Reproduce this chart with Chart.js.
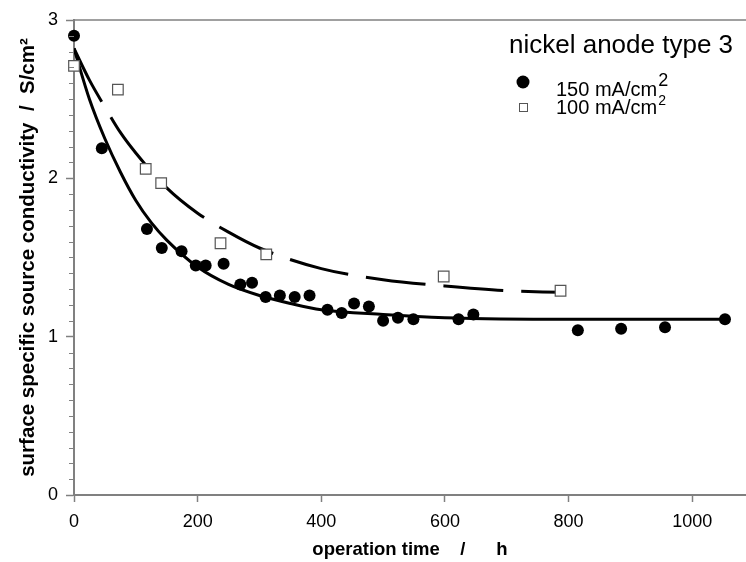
<!DOCTYPE html>
<html lang="en">
<head>
  <meta charset="UTF-8">
  <title>nickel anode type 3</title>
  <script src="https://cdn.jsdelivr.net/npm/chart.js"></script>
  <style>
    html, body { margin: 0; padding: 0; background: #fff; }
    #wrap { width: 746px; height: 562px; }
  </style>
</head>
<body>

<div id="wrap">
  <canvas id="chart" width="746" height="562"></canvas>
</div>

<script>
  const hours150 = [0, 45, 118, 142, 174, 197, 213, 242, 269, 288, 310, 333, 357, 381, 410, 433, 453, 477, 500, 524, 549, 622, 646, 815, 885, 956, 1053];
  const cond150  = [2.90, 2.19, 1.68, 1.56, 1.54, 1.45, 1.45, 1.46, 1.33, 1.34, 1.25, 1.26, 1.25, 1.26, 1.17, 1.15, 1.21, 1.19, 1.10, 1.12, 1.11, 1.11, 1.14, 1.04, 1.05, 1.06, 1.11];

  const hours100 = [0, 71, 116, 141, 237, 311, 598, 787];
  const cond100  = [2.71, 2.56, 2.06, 1.97, 1.59, 1.52, 1.38, 1.29];

  // fitted curves
  const fitHours150 = [0, 25, 50, 75, 100, 125, 150, 200, 250, 300, 350, 400, 500, 600, 800, 1053];
  const fitCond150  = [2.82, 2.50, 2.25, 2.04, 1.86, 1.72, 1.61, 1.44, 1.33, 1.26, 1.21, 1.17, 1.14, 1.12, 1.11, 1.11];

  const fitHours100 = [0, 25, 50, 75, 100, 150, 200, 250, 300, 400, 500, 600, 700, 787];
  const fitCond100  = [2.82, 2.62, 2.45, 2.29, 2.16, 1.94, 1.78, 1.66, 1.56, 1.43, 1.36, 1.32, 1.29, 1.28];

  const xTicks = [0, 200, 400, 600, 800, 1000];
  const yTicks = [0, 1, 2, 3];

  const toXY = (xs, ys) => xs.map((x, i) => ({ x: x, y: ys[i] }));
  const FONT = '"Liberation Sans", Arial, sans-serif';
  const AXIS = '#808080';

  // minor ticks on y, top frame line, legend text
  const decor = {
    id: 'decor',
    afterDraw(chart) {
      const ctx = chart.ctx;
      const y = chart.scales.y;
      const a = chart.chartArea;
      ctx.save();
      ctx.strokeStyle = AXIS;
      ctx.lineWidth = 1;
      for (let v = 0.1; v < 3; v += 0.1) {
        if (Math.abs(v - Math.round(v)) < 0.01) continue;
        const py = Math.round(y.getPixelForValue(v)) + 0.5;
        ctx.beginPath();
        ctx.moveTo(a.left - 5, py);
        ctx.lineTo(a.left, py);
        ctx.stroke();
      }
      ctx.lineWidth = 1.5;
      ctx.beginPath();
      ctx.moveTo(a.left, a.top);
      ctx.lineTo(a.right, a.top);
      ctx.stroke();

      // title + legend
      ctx.fillStyle = '#000';
      ctx.textBaseline = 'alphabetic';
      ctx.textAlign = 'left';
      ctx.font = '26px ' + FONT;
      ctx.fillText('nickel anode type 3', 509, 53);

      ctx.beginPath();
      ctx.arc(523, 82, 6.5, 0, Math.PI * 2);
      ctx.fill();
      ctx.font = '20px ' + FONT;
      ctx.fillText('150 mA/cm', 556, 96);
      let w = ctx.measureText('150 mA/cm').width;
      ctx.font = '18px ' + FONT;
      ctx.fillText('2', 556 + w + 1, 86);

      ctx.fillStyle = '#fff';
      ctx.strokeStyle = '#555';
      ctx.lineWidth = 1;
      ctx.fillRect(519.5, 103.5, 8, 8);
      ctx.strokeRect(519.5, 103.5, 8, 8);
      ctx.fillStyle = '#000';
      ctx.font = '20px ' + FONT;
      ctx.fillText('100 mA/cm', 556, 114);
      w = ctx.measureText('100 mA/cm').width;
      ctx.font = '14px ' + FONT;
      ctx.fillText('2', 556 + w + 1, 105);
      ctx.restore();
    }
  };

  const ctx = document.getElementById('chart').getContext('2d');

  const chart = new Chart(ctx, {
    type: 'scatter',
    data: {
      datasets: [
        {
          label: 'fit 100',
          type: 'line',
          data: toXY(fitHours100, fitCond100),
          borderColor: '#000',
          borderWidth: 3,
          borderDash: [60, 18],
          pointRadius: 0,
          fill: false,
          cubicInterpolationMode: 'monotone',
          order: 4
        },
        {
          label: 'fit 150',
          type: 'line',
          data: toXY(fitHours150, fitCond150),
          borderColor: '#000',
          borderWidth: 3,
          pointRadius: 0,
          fill: false,
          cubicInterpolationMode: 'monotone',
          order: 3
        },
        {
          label: '100 mA/cm²',
          data: toXY(hours100, cond100),
          pointStyle: 'rect',
          pointRadius: 7.5,
          backgroundColor: '#fff',
          borderColor: '#555',
          borderWidth: 1.2,
          clip: false,
          order: 2
        },
        {
          label: '150 mA/cm²',
          data: toXY(hours150, cond150),
          pointStyle: 'circle',
          pointRadius: 6,
          backgroundColor: '#000',
          borderColor: '#000',
          borderWidth: 0,
          clip: false,
          order: 1
        }
      ]
    },
    options: {
      responsive: false,
      animation: false,
      layout: { autoPadding: false, padding: { top: 20, right: 0, left: 0, bottom: 0 } },
      plugins: {
        legend: { display: false },
        tooltip: { enabled: false }
      },
      scales: {
        x: {
          type: 'linear',
          min: 0,
          max: 1087,
          afterFit(s) { s.height = 67; s.paddingLeft = 0; s.paddingRight = 0; },
          afterBuildTicks(s) { s.ticks = xTicks.map(v => ({ value: v })); },
          grid: { drawOnChartArea: false, tickLength: 7, tickColor: AXIS, tickWidth: 1.5 },
          border: { color: AXIS, width: 2 },
          ticks: {
            color: '#000',
            font: { family: FONT, size: 18 },
            padding: 9,
            maxRotation: 0,
            callback: v => String(v)
          },
          title: {
            display: true,
            text: 'operation time    /      h',
            color: '#000',
            font: { family: FONT, size: 18.5, weight: 'bold' },
            padding: { top: 2, bottom: 1 }
          }
        },
        y: {
          type: 'linear',
          min: 0,
          max: 3,
          afterFit(s) { s.width = 74; s.paddingTop = 0; s.paddingBottom = 0; },
          afterBuildTicks(s) { s.ticks = yTicks.map(v => ({ value: v })); },
          grid: { drawOnChartArea: false, tickLength: 8, tickColor: AXIS, tickWidth: 1.5 },
          border: { color: AXIS, width: 2 },
          ticks: { color: '#000', font: { family: FONT, size: 18 }, padding: 8 },
          title: {
            display: true,
            text: 'surface specific source conductivity  /  S/cm²',
            color: '#000',
            font: { family: FONT, size: 20.5, weight: 'bold' },
            padding: { top: 16, bottom: 0 }
          }
        }
      }
    },
    plugins: [decor]
  });
</script>

</body>
</html>
